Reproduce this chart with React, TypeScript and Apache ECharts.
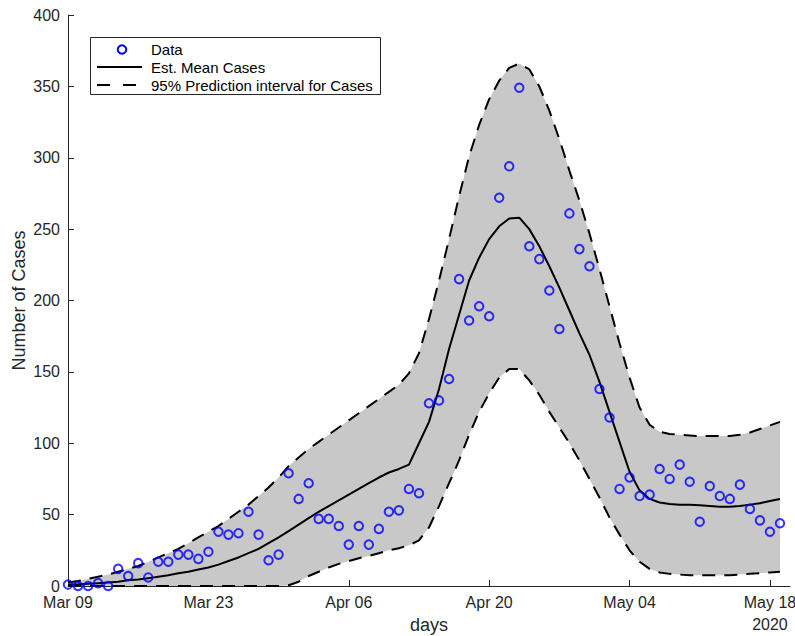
import React, { useEffect, useRef } from "react";
import * as echarts from "echarts";

// Day 0 = 2020-03-09
const startDate = [2020, 2, 9];
const axisMaxDay = 72;
const tickDays = [0, 14, 28, 42, 56, 70];
const yTicks = { min: 0, max: 400, interval: 50 };

const caseCounts = [
  1, 0, 0, 2, 0, 12, 7, 16, 6, 17,
  17, 22, 22, 19, 24, 38, 36, 37, 52, 36,
  18, 22, 79, 61, 72, 47, 47, 42, 29, 42,
  29, 40, 52, 53, 68, 65, 128, 130, 145, 215,
  186, 196, 189, 272, 294, 349, 238, 229, 207, 180,
  261, 236, 224, 138, 118, 68, 76, 63, 64, 82,
  75, 85, 73, 45, 70, 63, 61, 71, 54, 46,
  38, 44,
];

const meanCases = [
  1, 1.2, 1.5, 2, 2.5, 3, 4, 4.5, 5.5, 6.5,
  7.5, 9, 10, 11.5, 13, 15, 17.5, 20, 23, 26,
  30, 34, 38.5, 43, 47.5, 52, 56, 60, 64, 68,
  72, 76, 79.5, 82, 85, 100, 115, 138, 166, 190,
  214, 230, 243, 252, 257.5, 258, 250, 238, 224, 209,
  193, 177, 162, 143, 122, 101, 80, 67, 61, 58.5,
  57.5, 57, 57, 56.5, 56, 55.5, 55.5, 56, 57, 58,
  59.5, 61,
];

const upperBound = [
  2.5, 3.5, 5, 6.5, 8, 10, 12, 14, 17, 20,
  23, 26, 30, 34, 38, 42, 47, 52, 57, 63,
  69, 76, 84, 90, 96, 101, 106, 111, 116, 121,
  126, 131, 136, 141, 149, 163, 187, 214, 243, 273,
  301, 323, 341, 354, 363, 366, 362, 350, 333, 313,
  291, 270, 247, 222, 196, 170, 146, 125, 113, 108,
  106.5, 106, 105.5, 105, 105, 105, 105, 106, 107.5, 110,
  112.5, 115,
];

const lowerBound = [
  0, 0, 0, 0, 0, 0, 0, 0, 0, 0,
  0, 0, 0, 0, 0, 0, 0, 0, 0, 0,
  0, 0, 0.5, 3, 7, 10, 13, 15.5, 17.5, 19.5,
  21, 23, 25, 26.5, 28.5, 32, 41, 56, 72, 88,
  106, 122, 135, 146, 152, 152, 144, 134, 122, 111,
  100, 88, 75, 62, 48, 36, 25, 17, 12, 9.5,
  8.5, 8, 7.5, 7.5, 7.5, 7.5, 7.5, 8, 8.5, 9,
  9.5, 10,
];

const legendLabels = ["Data", "Est. Mean Cases", "95% Prediction interval for Cases"];
const axisNames = { x: "days", y: "Number of Cases" };

const monthNames = ["Jan", "Feb", "Mar", "Apr", "May", "Jun", "Jul", "Aug", "Sep", "Oct", "Nov", "Dec"];

function dayLabel(d: number): string {
  const dt = new Date(startDate[0], startDate[1], startDate[2] + d);
  const s = monthNames[dt.getMonth()] + " " + String(dt.getDate()).padStart(2, "0");
  if (d === tickDays[tickDays.length - 1]) return s + "\n" + dt.getFullYear();
  return s;
}

const FONT = '"Liberation Sans", Arial, Helvetica, sans-serif';
const AXIS_COLOR = "#262626";

export default function App() {
  const ref = useRef<HTMLDivElement>(null);

  useEffect(() => {
    document.body.style.margin = "0";
    if (!ref.current) return;
    const chart = echarts.init(ref.current, null, { renderer: "svg" });

    const pair = (arr: number[]) => arr.map((v, i) => [i, v]);

    const dashed = { color: "#000", width: 2, type: [13, 9] as number[], cap: "butt" as const };

    const option: any = {
      animation: false,
      textStyle: { fontFamily: FONT },
      grid: { left: 68, right: 5, top: 15, bottom: 50, containLabel: false, outerBoundsMode: "none" },
      xAxis: {
        type: "value",
        min: 0,
        max: axisMaxDay,
        name: axisNames.x,
        nameLocation: "middle",
        nameGap: 30,
        nameMoveOverlap: false,
        nameTextStyle: { fontSize: 18, color: AXIS_COLOR, fontFamily: FONT },
        splitLine: { show: false },
        axisLine: { show: true, onZero: false, lineStyle: { color: AXIS_COLOR, width: 1 } },
        axisTick: { show: true, inside: true, length: 6, customValues: tickDays, lineStyle: { color: AXIS_COLOR } },
        axisLabel: {
          customValues: tickDays,
          formatter: (v: number) => dayLabel(Math.round(v)),
          fontSize: 16,
          color: AXIS_COLOR,
          fontFamily: FONT,
          margin: 5,
          lineHeight: 22,
        },
      },
      yAxis: {
        type: "value",
        min: yTicks.min,
        max: yTicks.max,
        interval: yTicks.interval,
        name: axisNames.y,
        nameLocation: "middle",
        nameGap: 40,
        nameMoveOverlap: false,
        nameTextStyle: { fontSize: 18, color: AXIS_COLOR, fontFamily: FONT },
        splitLine: { show: false },
        axisLine: { show: true, lineStyle: { color: AXIS_COLOR, width: 1 } },
        axisTick: { show: true, inside: true, length: 6, lineStyle: { color: AXIS_COLOR } },
        axisLabel: { fontSize: 16, color: AXIS_COLOR, fontFamily: FONT, margin: 8 },
      },
      series: [
        {
          name: "band",
          type: "custom",
          silent: true,
          z: 1,
          data: [0],
          renderItem: (params: any, api: any) => {
            const pts: number[][] = [];
            for (let i = 0; i < upperBound.length; i++) pts.push(api.coord([i, upperBound[i]]));
            for (let i = lowerBound.length - 1; i >= 0; i--) pts.push(api.coord([i, lowerBound[i]]));
            return {
              type: "polygon",
              shape: { points: pts },
              style: { fill: "#c8c8c8", stroke: "none" },
            };
          },
        },
        {
          name: "upper",
          type: "line",
          data: pair(upperBound),
          symbol: "none",
          lineStyle: dashed,
          z: 3,
        },
        {
          name: "lower",
          type: "line",
          data: pair(lowerBound),
          symbol: "none",
          lineStyle: dashed,
          z: 3,
        },
        {
          name: legendLabels[1],
          type: "line",
          data: pair(meanCases),
          symbol: "none",
          lineStyle: { color: "#000", width: 2 },
          z: 4,
        },
        {
          name: legendLabels[0],
          type: "scatter",
          data: pair(caseCounts),
          symbol: "circle",
          symbolSize: 8.5,
          itemStyle: { color: "rgba(0,0,0,0)", borderColor: "#0000ff", borderWidth: 2 },
          z: 5,
        },
      ],
      graphic: [
        {
          type: "group",
          left: 90,
          top: 37,
          z: 100,
          children: [
            {
              type: "rect",
              shape: { x: 0.5, y: 0.5, width: 290, height: 57 },
              style: { fill: "#fff", stroke: AXIS_COLOR, lineWidth: 1 },
            },
            {
              type: "circle",
              shape: { cx: 32, cy: 12.5, r: 4.3 },
              style: { fill: "none", stroke: "#0000ff", lineWidth: 2 },
            },
            {
              type: "line",
              shape: { x1: 7, y1: 30, x2: 52, y2: 30 },
              style: { stroke: "#000", lineWidth: 2 },
            },
            {
              type: "line",
              shape: { x1: 7, y1: 48, x2: 52, y2: 48 },
              style: { stroke: "#000", lineWidth: 2, lineDash: [13, 13] },
            },
            {
              type: "text",
              x: 61,
              y: 12.5,
              style: { text: legendLabels[0], fontSize: 15, fontFamily: FONT, fill: "#000", verticalAlign: "middle" },
            },
            {
              type: "text",
              x: 61,
              y: 30,
              style: { text: legendLabels[1], fontSize: 15, fontFamily: FONT, fill: "#000", verticalAlign: "middle" },
            },
            {
              type: "text",
              x: 61,
              y: 48,
              style: { text: legendLabels[2], fontSize: 15, fontFamily: FONT, fill: "#000", verticalAlign: "middle" },
            },
          ],
        },
      ],
    };

    chart.setOption(option);
    return () => chart.dispose();
  }, []);

  return <div ref={ref} style={{ width: 795, height: 636 }} />;
}
